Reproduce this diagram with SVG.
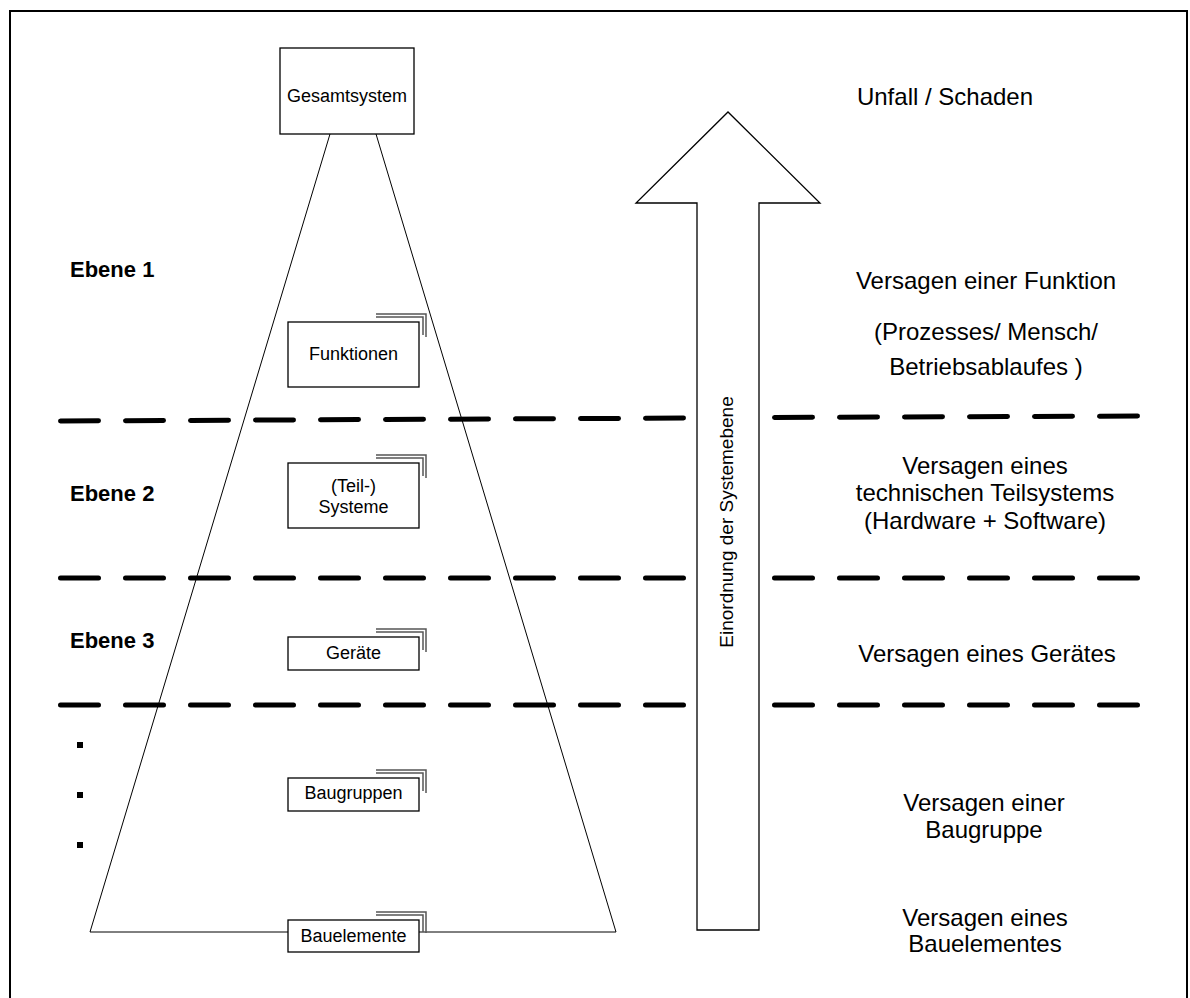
<svg xmlns="http://www.w3.org/2000/svg" width="1190" height="998" viewBox="0 0 1190 998">
  <defs>
    <style>
      .box { fill: #fff; stroke: #000; stroke-width: 1.3; }
      .stack { fill: none; stroke: #555; stroke-width: 1.5; }
      .edge { fill: none; stroke: #000; stroke-width: 1; }
      .sep { fill: none; stroke: #000; stroke-width: 5; stroke-linecap: round; stroke-dasharray: 38 27; }
      .lbl { font-family: "Liberation Sans", Arial, sans-serif; font-size: 18px; fill: #000; text-anchor: middle; }
      .side { font-family: "Liberation Sans", Arial, sans-serif; font-size: 24px; fill: #000; text-anchor: middle; }
      .lvl { font-family: "Liberation Sans", Arial, sans-serif; font-size: 22px; font-weight: bold; fill: #000; }
    </style>
  </defs>

  <rect width="1190" height="998" fill="#fff"/>

  <!-- outer frame -->
  <path d="M10,1000 V11 H1187 V1000" fill="none" stroke="#000" stroke-width="2"/>

  <!-- pyramid outline -->
  <g id="connectors">
    <path class="edge" d="M330,134 L90,932 H288"/>
    <path class="edge" d="M376,134 L616,932 H419"/>
  </g>

  <!-- level separators -->
  <g id="separators">
    <line class="sep" x1="60.5" y1="421" x2="700" y2="418"/>
    <line class="sep" x1="774.5" y1="417.5" x2="1140" y2="416"/>
    <line class="sep" x1="60.5" y1="578" x2="700" y2="578"/>
    <line class="sep" x1="774.5" y1="578" x2="1140" y2="578"/>
    <line class="sep" x1="60.5" y1="705" x2="700" y2="705"/>
    <line class="sep" x1="774.5" y1="705" x2="1140" y2="705"/>
  </g>

  <!-- system hierarchy nodes -->
  <g id="gesamtsystem">
    <rect class="box" x="280" y="48" width="134" height="86"/>
    <text class="lbl" x="347" y="102">Gesamtsystem</text>
  </g>

  <g id="funktionen">
    <path class="stack" d="M376,314 H426 V337"/>
    <path class="stack" d="M376,317 H423 V335"/>
    <rect class="box" x="288" y="322" width="131" height="65"/>
    <text class="lbl" x="353.5" y="360">Funktionen</text>
  </g>

  <g id="teilsysteme">
    <path class="stack" d="M376,455 H426 V478"/>
    <path class="stack" d="M376,458 H423 V476"/>
    <rect class="box" x="288" y="463" width="131" height="65"/>
    <text class="lbl" x="353.5" y="492">(Teil-)</text>
    <text class="lbl" x="353.5" y="513">Systeme</text>
  </g>

  <g id="geraete">
    <path class="stack" d="M376,629 H426 V652"/>
    <path class="stack" d="M376,632 H423 V650"/>
    <rect class="box" x="288" y="637" width="131" height="33"/>
    <text class="lbl" x="353.5" y="659">Geräte</text>
  </g>

  <g id="baugruppen">
    <path class="stack" d="M376,770 H426 V793"/>
    <path class="stack" d="M376,773 H423 V791"/>
    <rect class="box" x="288" y="778" width="131" height="33"/>
    <text class="lbl" x="353.5" y="799">Baugruppen</text>
  </g>

  <g id="bauelemente">
    <path class="stack" d="M376,912 H426 V933"/>
    <path class="stack" d="M376,915 H423 V932"/>
    <rect class="box" x="288" y="920" width="131" height="32"/>
    <text class="lbl" x="353.5" y="942">Bauelemente</text>
  </g>

  <!-- level labels -->
  <g id="ebenen">
    <text class="lvl" x="70" y="277">Ebene 1</text>
    <text class="lvl" x="70" y="501">Ebene 2</text>
    <text class="lvl" x="70" y="648">Ebene 3</text>
    <rect x="77" y="742" width="6" height="6" fill="#000"/>
    <rect x="77" y="792" width="6" height="6" fill="#000"/>
    <rect x="77" y="842" width="6" height="6" fill="#000"/>
  </g>

  <!-- upward arrow -->
  <g id="einordnung">
    <path d="M697,930 V203 H636 L728,112 L820,203 H759 V930 Z" fill="#fff" stroke="#000" stroke-width="1.3"/>
    <text class="lbl" transform="translate(733,522) rotate(-90)" style="font-size:19px">Einordnung der Systemebene</text>
  </g>

  <!-- failure descriptions -->
  <g id="versagen">
    <text class="side" x="945" y="105">Unfall / Schaden</text>
    <text class="side" x="986" y="289">Versagen einer Funktion</text>
    <text class="side" x="986" y="340">(Prozesses/ Mensch/</text>
    <text class="side" x="986" y="375">Betriebsablaufes )</text>
    <text class="side" x="985" y="474">Versagen eines</text>
    <text class="side" x="985" y="501">technischen Teilsystems</text>
    <text class="side" x="985" y="529">(Hardware + Software)</text>
    <text class="side" x="987" y="662">Versagen eines Gerätes</text>
    <text class="side" x="984" y="811">Versagen einer</text>
    <text class="side" x="984" y="838">Baugruppe</text>
    <text class="side" x="985" y="926">Versagen eines</text>
    <text class="side" x="985" y="952">Bauelementes</text>
  </g>
</svg>
